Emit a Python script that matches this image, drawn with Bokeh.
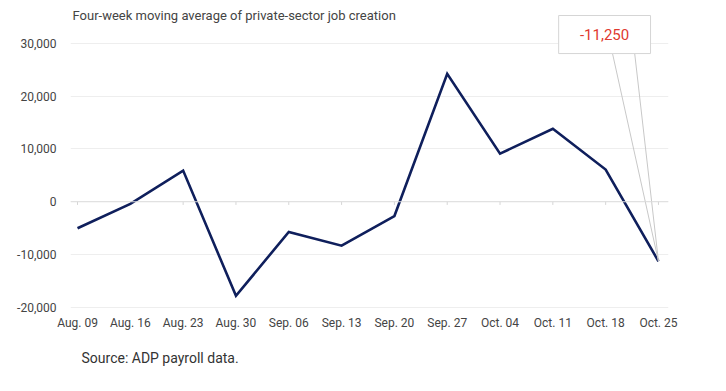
from bokeh.plotting import figure
from bokeh.models import Label, FixedTicker, NumeralTickFormatter, Span, Title
from bokeh.embed import file_html
from bokeh.resources import INLINE

# ---- data ----
weeks = ["Aug. 09", "Aug. 16", "Aug. 23", "Aug. 30", "Sep. 06", "Sep. 13",
         "Sep. 20", "Sep. 27", "Oct. 04", "Oct. 11", "Oct. 18", "Oct. 25"]
avg_jobs = [-5000, -400, 5900, -17800, -5700, -8300,
            -2700, 24200, 9100, 13800, 6100, -11250]
y_ticks = [-20000, -10000, 0, 10000, 20000, 30000]
title_text = "Four-week moving average of private-sector job creation"
source_text = "Source: ADP payroll data."
callout_text = "-11,250"

FONT = "Roboto"
xs = list(range(len(weeks)))

p = figure(width=710, height=382, output_backend="svg", toolbar_location=None,
           x_range=(-0.133, 11.19), y_range=(-20189, 36553),
           min_border_left=70, min_border_right=42, min_border_top=8,
           min_border_bottom=74, outline_line_color=None)
p.background_fill_color = "white"
p.border_fill_color = "white"

# axes
p.xaxis.ticker = FixedTicker(ticks=xs)
p.xaxis.major_label_overrides = {i: w for i, w in enumerate(weeks)}
p.xaxis.axis_line_color = None
p.xaxis.major_tick_line_color = None
p.xaxis.minor_tick_line_color = None
p.xaxis.major_label_standoff = 1
p.xaxis.major_label_text_font = FONT
p.xaxis.major_label_text_font_size = "12px"
p.xaxis.major_label_text_color = "#444444"

p.yaxis.ticker = FixedTicker(ticks=y_ticks)
p.yaxis.formatter = NumeralTickFormatter(format="0,0")
p.yaxis.axis_line_color = None
p.yaxis.major_tick_line_color = None
p.yaxis.minor_tick_line_color = None
p.yaxis.major_label_standoff = 8
p.yaxis.major_label_text_font = FONT
p.yaxis.major_label_text_font_size = "12px"
p.yaxis.major_label_text_color = "#444444"

p.xgrid.grid_line_color = None
p.ygrid.ticker = FixedTicker(ticks=y_ticks)
p.ygrid.grid_line_color = "#eeeeee"
p.ygrid.grid_line_width = 1

# zero line with tick marks at categories
p.add_layout(Span(location=0, dimension="width", line_color="#dddddd", line_width=1))
p.segment(x0=xs, y0=[0] * len(xs), x1=xs, y1=[-600] * len(xs),
          line_color="#d5d5d5", line_width=1)

# series
p.line(xs, avg_jobs, line_color="#0f1f5c", line_width=2.6, line_join="miter")

# callout
last_x, last_y = xs[-1], avg_jobs[-1]
p.segment(x0=[10.13, 10.55], y0=[28030, 28030], x1=[last_x, last_x], y1=[last_y, last_y],
          line_color="#c8c8c8", line_width=1)
p.quad(left=[9.11], right=[10.85], bottom=[28030], top=[35227],
       fill_color="white", line_color="#d5d5d5", line_width=1)
p.add_layout(Label(x=9.98, y=31650, text=callout_text, text_align="center",
                   text_baseline="middle", text_font=FONT, text_font_size="15px",
                   text_color="#e0392f"))

# title and source
p.add_layout(Label(x=-0.095, y=35230, text=title_text, text_align="left",
                   text_baseline="middle", text_font=FONT, text_font_size="13px",
                   text_color="#444444"))
p.add_layout(Title(text=source_text, align="left", offset=11, standoff=31,
                   text_font=FONT, text_font_size="14px", text_font_style="normal",
                   text_color="#333333"), "below")

open("out.html", "w").write(file_html(p, INLINE))
